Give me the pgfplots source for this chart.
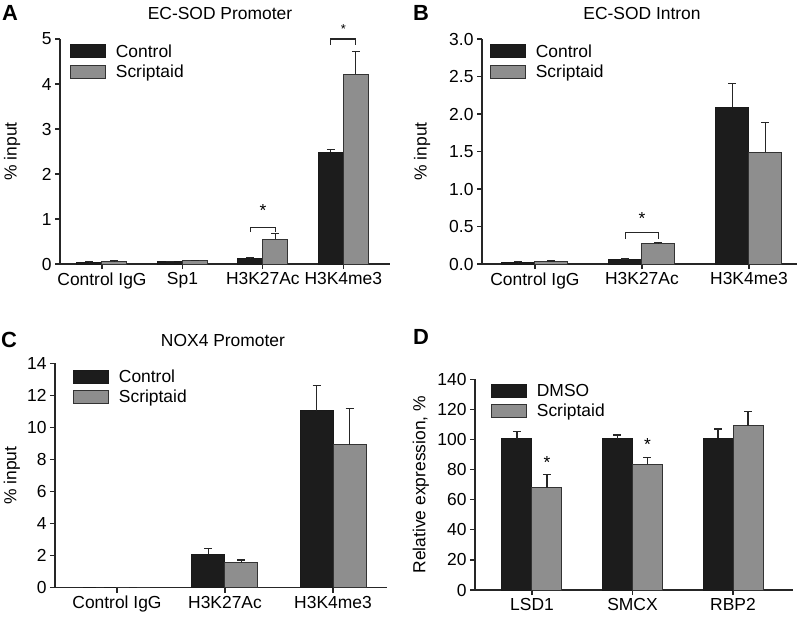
\documentclass[border=0pt]{standalone}
\usepackage{pgfplots}
\pgfplotsset{compat=1.18}
\usepackage{fontspec}
\setmainfont{Liberation Sans}
\definecolor{ctrl}{HTML}{1C1C1C}
\definecolor{scrp}{HTML}{8E8E8E}
\newcommand{\fs}{\fontsize{17.5}{20}\selectfont}
\pgfplotsset{
 panel/.style={
   scale only axis, anchor=south west,
   axis lines*=left,
   ybar=0pt,
   tick align=outside,
   major tick length=5bp,
   axis line style={line width=1.2bp, black!85},
   every tick/.style={line width=1.2bp, black!85},
   ymin=0, clip=false,
   /pgf/number format/assume math mode=true,
   tick label style={font=\fs},
   legend style={draw=none, fill=none, font=\fs, anchor=north west, inner sep=0pt, outer sep=0pt, row sep=2bp},
   legend cell align=left,
   legend image code/.code={\draw[#1] (0bp,-6.5bp) rectangle (35bp,6.5bp); \path (43bp,0bp);},
   every axis y label/.style={rotate=90, anchor=center, font=\fs},
 },
 ctrlbar/.style={fill=ctrl, draw=black!90, line width=1bp,
   error bars/.cd, y dir=plus, y explicit, error mark=|,
   error bar style={line width=1.2bp, black!85},
   error mark options={mark size=4bp, line width=1.2bp, black!85}},
 scrpbar/.style={fill=scrp, draw=black!80, line width=1bp,
   error bars/.cd, y dir=plus, y explicit, error mark=|,
   error bar style={line width=1.2bp, black!85},
   error mark options={mark size=4bp, line width=1.2bp, black!85}},
}
\pgfplotstableread{
x c ce s se
0 0.04 0.015 0.05 0.02
1 0.05 0.01 0.07 0.01
2 0.12 0.02 0.55 0.13
3 2.48 0.07 4.22 0.50
}\dataA
\pgfplotstableread{
x c ce s se
0 0.02 0.015 0.03 0.01
1 0.06 0.008 0.27 0.02
2 2.09 0.32 1.49 0.40
}\dataB
\pgfplotstableread{
x c ce s se
0 0.02 0.01 0.02 0.01
1 2.10 0.36 1.55 0.18
2 11.05 1.55 8.92 2.25
}\dataC
\pgfplotstableread{
x c ce s se
0 100.5 4.7 68.0 8.9
1 100.5 2.5 83.5 4.7
2 100.7 6.3 109.3 9.2
}\dataD
\begin{document}
\begin{tikzpicture}
\path[use as bounding box] (0,0) rectangle (805bp,-620bp);
% Panel A
\begin{axis}[panel, at={(60bp,-264bp)}, width=330bp, height=225bp,
  bar width=25bp, xmin=-0.522, xmax=3.58, ymax=5,
  xtick={0,1,2,3}, xticklabels={Control IgG,Sp1,H3K27Ac,H3K4me3},
  ytick={0,1,2,3,4,5},
  ylabel={\% input},
  every axis y label/.append style={at={(axis description cs:-0.145,0.5)}},
  legend style={at={(axis description cs:0.03,0.985)}}]
\addplot[ctrlbar] table[x=x,y=c,y error=ce]{\dataA};
\addplot[scrpbar] table[x=x,y=s,y error=se]{\dataA};
\legend{Control,Scriptaid}
\draw[line width=1.2bp, black!85] ([xshift=-12.5bp]axis cs:2,0.71) -- ([xshift=-12.5bp]axis cs:2,0.82) -- ([xshift=12.5bp]axis cs:2,0.82) -- ([xshift=12.5bp]axis cs:2,0.71);
\node[font=\fs] at (axis cs:2,1.18) {*};
\draw[line width=1.2bp, black!85] ([xshift=-12.5bp]axis cs:3,4.87) -- ([xshift=-12.5bp]axis cs:3,5.0) -- ([xshift=12.5bp]axis cs:3,5.0) -- ([xshift=12.5bp]axis cs:3,4.87);
\node[font=\fontsize{13}{15}\selectfont] at (axis cs:3,5.22) {*};
\end{axis}
% Panel B
\begin{axis}[panel, at={(482bp,-264bp)}, width=315bp, height=225bp,
  bar width=33bp, xmin=-0.495, xmax=2.449, ymax=3,
  xtick={0,1,2}, xticklabels={Control IgG,H3K27Ac,H3K4me3},
  ytick={0,0.5,1,1.5,2,2.5,3},
  yticklabel style={/pgf/number format/.cd, fixed, fixed zerofill, precision=1},
  ylabel={\% input},
  every axis y label/.append style={at={(axis description cs:-0.19,0.5)}},
  legend style={at={(axis description cs:0.025,0.985)}}]
\addplot[ctrlbar] table[x=x,y=c,y error=ce]{\dataB};
\addplot[scrpbar] table[x=x,y=s,y error=se]{\dataB};
\legend{Control,Scriptaid}
\draw[line width=1.2bp, black!85] ([xshift=-16.5bp]axis cs:1,0.34) -- ([xshift=-16.5bp]axis cs:1,0.42) -- ([xshift=16.5bp]axis cs:1,0.42) -- ([xshift=16.5bp]axis cs:1,0.34);
\node[font=\fs] at (axis cs:1,0.61) {*};
\end{axis}
% Panel C
\begin{axis}[panel, at={(55bp,-587.7bp)}, width=332bp, height=224.3bp,
  bar width=33bp, xmin=-0.574, xmax=2.5, ymax=14,
  xtick={0,1,2}, xticklabels={Control IgG,H3K27Ac,H3K4me3},
  ytick={0,2,4,6,8,10,12,14},
  ylabel={\% input},
  every axis y label/.append style={at={(axis description cs:-0.13,0.5)}},
  legend style={at={(axis description cs:0.054,0.98)}}]
\addplot[ctrlbar] table[x=x,y=c,y error=ce]{\dataC};
\addplot[scrpbar] table[x=x,y=s,y error=se]{\dataC};
\legend{Control,Scriptaid}
\end{axis}
% Panel D
\begin{axis}[panel, at={(475bp,-590bp)}, width=318bp, height=210.7bp,
  bar width=30bp, xmin=-0.567, xmax=2.597, ymax=140,
  xtick={0,1,2}, xticklabels={LSD1,SMCX,RBP2},
  ytick={0,20,40,60,80,100,120,140},
  ylabel={Relative expression, \%},
  every axis y label/.append style={at={(axis description cs:-0.17,0.5)}},
  legend style={at={(axis description cs:0.05,0.985)}}]
\addplot[ctrlbar] table[x=x,y=c,y error=ce]{\dataD};
\addplot[scrpbar] table[x=x,y=s,y error=se]{\dataD};
\legend{DMSO,Scriptaid}
\node[font=\fs] at ([xshift=15bp]axis cs:0,85) {*};
\node[font=\fs] at ([xshift=15bp]axis cs:1,97) {*};
\end{axis}
% titles and panel labels
\node[font=\fs] at (220bp,-13bp) {EC-SOD Promoter};
\node[font=\fs] at (642bp,-13bp) {EC-SOD Intron};
\node[font=\fs] at (223bp,-340bp) {NOX4 Promoter};
\node[font=\fontsize{22}{24}\selectfont\bfseries] at (10bp,-13bp) {A};
\node[font=\fontsize{22}{24}\selectfont\bfseries] at (421bp,-13bp) {B};
\node[font=\fontsize{22}{24}\selectfont\bfseries] at (9bp,-340bp) {C};
\node[font=\fontsize{22}{24}\selectfont\bfseries] at (421bp,-337bp) {D};
\end{tikzpicture}
\end{document}
